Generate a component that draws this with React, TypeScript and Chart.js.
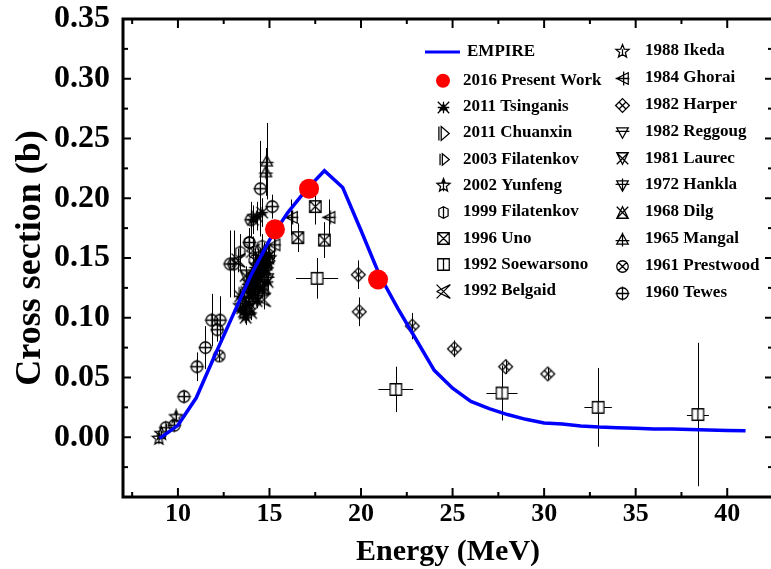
import React, { useEffect, useRef } from 'react';
import { Chart, registerables } from 'chart.js';
Chart.register(...registerables);

// ---------- axis ticks ----------
const X_TICKS = [10, 15, 20, 25, 30, 35, 40];
const X_MINOR = [7.5, 12.5, 17.5, 22.5, 27.5, 32.5, 37.5, 42.5];
const Y_TICKS = [-0.05, 0, 0.05, 0.1, 0.15, 0.2, 0.25, 0.3, 0.35];
const Y_MINOR = [-0.025, 0.025, 0.075, 0.125, 0.175, 0.225, 0.275, 0.325];

// ---------- EMPIRE calculation ----------
const EMPIRE_E = [9, 10, 11, 12, 13, 14, 15, 16, 17, 18, 19, 20, 21, 22, 23, 24, 25, 26, 27, 28, 29, 30, 31, 32, 33, 34, 35, 36, 37, 38, 39, 40, 41];
const EMPIRE_XS = [-0.001, 0.010, 0.033, 0.068, 0.102, 0.136, 0.165, 0.188, 0.207, 0.223, 0.209, 0.173, 0.136, 0.108, 0.082, 0.056, 0.041, 0.030, 0.024, 0.019, 0.015, 0.012, 0.011, 0.0095, 0.0085, 0.008, 0.0075, 0.007, 0.0068, 0.0065, 0.006, 0.0057, 0.0054];

// ---------- experimental data ----------
const PRESENT_E = [15.3, 17.16, 20.93];
const PRESENT_XS = [0.174, 0.208, 0.132];

const TSINGANIS_E = [13.5, 13.7, 13.9, 14.0, 14.1, 14.2, 14.3, 14.4, 14.5, 14.6, 14.7, 14.8, 14.1, 14.6, 14.3, 13.4, 13.6, 13.8, 13.9, 14.0, 14.1, 14.2, 14.3, 14.4, 14.5, 14.6, 14.7, 14.8, 14.9, 15.0, 13.7, 14.0, 14.3, 14.6, 14.9];
const TSINGANIS_XS = [0.108, 0.112, 0.118, 0.125, 0.130, 0.128, 0.135, 0.140, 0.138, 0.145, 0.148, 0.150, 0.182, 0.188, 0.185, 0.118, 0.105, 0.128, 0.112, 0.135, 0.122, 0.142, 0.126, 0.150, 0.132, 0.138, 0.155, 0.140, 0.146, 0.152, 0.100, 0.104, 0.114, 0.124, 0.130];
const TSINGANIS_ERR = [0.006, 0.006, 0.006, 0.007, 0.007, 0.007, 0.007, 0.007, 0.007, 0.008, 0.008, 0.008, 0.012, 0.012, 0.012, 0.006, 0.006, 0.007, 0.006, 0.007, 0.007, 0.007, 0.007, 0.008, 0.007, 0.007, 0.008, 0.007, 0.008, 0.008, 0.006, 0.006, 0.006, 0.007, 0.007];

const CHUANXIN_E = [13.6, 14.0, 14.5, 14.9];
const CHUANXIN_XS = [0.120, 0.132, 0.140, 0.155];
const CHUANXIN_ERR = [0.006, 0.007, 0.007, 0.008];

const FILATENKOV03_E = [13.8, 14.3, 14.7];
const FILATENKOV03_XS = [0.125, 0.140, 0.152];
const FILATENKOV03_ERR = [0.007, 0.008, 0.008];

const YUNFENG_E = [8.96, 9.9, 13.6, 13.9, 14.2, 14.5, 14.8, 15.0];
const YUNFENG_XS = [-0.001, 0.017, 0.104, 0.115, 0.122, 0.130, 0.140, 0.150];
const YUNFENG_ERR = [0.001, 0.002, 0.006, 0.006, 0.007, 0.007, 0.007, 0.008];

const FILATENKOV99_E = [13.4, 13.9, 14.6];
const FILATENKOV99_XS = [0.155, 0.163, 0.160];
const FILATENKOV99_ERR = [0.015, 0.012, 0.010];

const UNO_E = [16.55, 17.5, 18.0];
const UNO_XS = [0.167, 0.193, 0.165];
const UNO_ERR = [0.012, 0.015, 0.015];

const SOEWARSONO_E = [17.6, 21.9, 27.7, 32.95, 38.4];
const SOEWARSONO_XS = [0.133, 0.040, 0.037, 0.025, 0.019];
const SOEWARSONO_ERR = [0.017, 0.019, 0.023, 0.033, 0.060];
const SOEWARSONO_EERR = [1.15, 0.95, 0.85, 0.75, 0.6];

const BELGAID_E = [13.3, 14.1, 14.7];
const BELGAID_XS = [0.148, 0.156, 0.115];
const BELGAID_ERR = [0.010, 0.012, 0.008];

const IKEDA_E = [9.1, 13.4, 13.8, 14.2, 14.6, 14.9];
const IKEDA_XS = [0.003, 0.110, 0.120, 0.135, 0.142, 0.145];
const IKEDA_ERR = [0.001, 0.006, 0.006, 0.007, 0.007, 0.007];

const GHORAI_E = [15.25, 16.2, 18.25];
const GHORAI_XS = [0.161, 0.184, 0.184];
const GHORAI_ERR = [0.012, 0.015, 0.015];

const HARPER_E = [19.85, 19.9, 22.8, 25.1, 27.9, 30.2];
const HARPER_XS = [0.136, 0.105, 0.093, 0.074, 0.059, 0.053];
const HARPER_ERR = [0.012, 0.012, 0.011, 0.007, 0.006, 0.005];

const REGGOUG_E = [14.1, 14.7];
const REGGOUG_XS = [0.128, 0.145];
const REGGOUG_ERR = [0.007, 0.008];

const LAUREC_E = [13.7, 14.5];
const LAUREC_XS = [0.135, 0.150];
const LAUREC_ERR = [0.008, 0.008];

const HANKLA_E = [14.4, 14.9];
const HANKLA_XS = [0.118, 0.133];
const HANKLA_ERR = [0.007, 0.007];

const DILG_E = [13.9, 14.7];
const DILG_XS = [0.108, 0.125];
const DILG_ERR = [0.006, 0.007];

const MANGAL_E = [14.85, 14.8];
const MANGAL_XS = [0.231, 0.222];
const MANGAL_ERR = [0.032, 0.020];

const PRESTWOOD_E = [12.25, 14.2];
const PRESTWOOD_XS = [0.068, 0.148];
const PRESTWOOD_ERR = [0.005, 0.010];

const TEWES_E = [9.34, 9.8, 10.33, 11.04, 11.5, 11.85, 12.3, 12.15, 12.85, 13.05, 13.9, 14.0, 14.5, 15.15];
const TEWES_XS = [0.008, 0.010, 0.034, 0.059, 0.075, 0.098, 0.098, 0.090, 0.145, 0.145, 0.163, 0.182, 0.208, 0.193];
const TEWES_ERR = [0.003, 0.003, 0.004, 0.012, 0.018, 0.022, 0.020, 0.010, 0.028, 0.028, 0.012, 0.015, 0.040, 0.010];

// ---------- glyphs ----------
type Draw = (c: CanvasRenderingContext2D) => void;
function glyph(draw: Draw, fill = false): HTMLCanvasElement {
  const s = 17;
  const cv = document.createElement('canvas');
  cv.width = s;
  cv.height = s;
  const c = cv.getContext('2d')!;
  c.translate(8.5, 8.5);
  c.scale(1.15, 1.15);
  c.strokeStyle = '#000';
  c.fillStyle = '#fff';
  c.lineWidth = 1.1;
  c.beginPath();
  draw(c);
  if (fill) c.fill();
  c.stroke();
  return cv;
}
const L = (c: CanvasRenderingContext2D, a: number, b: number, d: number, e: number) => { c.moveTo(a, b); c.lineTo(d, e); };
const poly = (c: CanvasRenderingContext2D, pts: number[][]) => { c.moveTo(pts[0][0], pts[0][1]); for (let i = 1; i < pts.length; i++) c.lineTo(pts[i][0], pts[i][1]); c.closePath(); };
const star = (c: CanvasRenderingContext2D, ro: number, ri: number) => {
  const pts: number[][] = [];
  for (let i = 0; i < 10; i++) { const a = (-90 + i * 36) * Math.PI / 180; const r = i % 2 ? ri : ro; pts.push([r * Math.cos(a), r * Math.sin(a)]); }
  poly(c, pts);
};
const circ = (c: CanvasRenderingContext2D, r: number) => { c.moveTo(r, 0); c.arc(0, 0, r, 0, Math.PI * 2); };

function makeGlyphs() {
  return {
    tsinganis: glyph((c) => { L(c, -5, -5, 5, 5); L(c, -5, 5, 5, -5); L(c, -5, 0, 5, 0); L(c, 0, -5, 0, 5); poly(c, [[0, -3], [3, 2], [-3, 2]]); }),
    chuanxin: glyph((c) => { L(c, -4, -6, -4, 6); poly(c, [[-2, -6], [5, 0], [-2, 6]]); }),
    filatenkov03: glyph((c) => { L(c, -3, -5, -3, 5); poly(c, [[-1, -5], [5, 0], [-1, 5]]); }),
    yunfeng: glyph((c) => { star(c, 6, 2.6); L(c, -5, -2, 5, -2); L(c, 0, -6, 0, 5); }),
    filatenkov99: glyph((c) => { poly(c, [[0, -5], [4, -3], [4, 3], [0, 5], [-4, 3], [-4, -3]]); L(c, 0, -5, 0, 5); }),
    uno: glyph((c) => { c.rect(-5, -5, 10, 10); L(c, -5, -5, 5, 5); L(c, -5, 5, 5, -5); }),
    soewarsono: glyph((c) => { c.rect(-5, -5, 10, 10); L(c, 0, -5, 0, 5); }, true),
    belgaid: glyph((c) => { L(c, -6, -6, 6, 6); L(c, -6, 6, 6, -6); L(c, -6, 0, 6, -6); L(c, -6, 0, 6, 6); }),
    ikeda: glyph((c) => { star(c, 6, 2.6); L(c, 0, -2, 0, 4); }),
    ghorai: glyph((c) => { poly(c, [[5, -5], [-5, 0], [5, 5]]); L(c, -6, 0, 6, 0); L(c, 1, -6, 1, 6); }),
    harper: glyph((c) => { poly(c, [[0, -6], [6, 0], [0, 6], [-6, 0]]); L(c, -3, -3, 3, 3); L(c, -3, 3, 3, -3); }),
    reggoug: glyph((c) => { poly(c, [[-5, -4], [5, -4], [0, 5]]); L(c, -6, -1, 6, -1); }),
    laurec: glyph((c) => { poly(c, [[-5, -5], [5, -5], [0, 5]]); L(c, -5, -5, 5, 5); L(c, -5, 5, 5, -5); }),
    hankla: glyph((c) => { poly(c, [[-5, -4], [5, -4], [0, 5]]); L(c, -6, -1, 6, -1); L(c, 0, -6, 0, 5); }),
    dilg: glyph((c) => { poly(c, [[-5, 5], [5, 5], [0, -5]]); L(c, -5, -5, 5, 5); L(c, -5, 5, 5, -5); }),
    mangal: glyph((c) => { poly(c, [[-5, 4], [5, 4], [0, -5]]); L(c, -6, 1, 6, 1); L(c, 0, -6, 0, 6); }),
    prestwood: glyph((c) => { circ(c, 5); L(c, -3.5, -3.5, 3.5, 3.5); L(c, -3.5, 3.5, 3.5, -3.5); }),
    tewes: glyph((c) => { circ(c, 5); L(c, -6, 0, 6, 0); L(c, 0, -6, 0, 6); }),
  };
}

const pts = (xs: number[], ys: number[]) => xs.map((x, i) => ({ x, y: ys[i] }));

const COL1 = ['EMPIRE', '2016 Present Work', '2011 Tsinganis', '2011 Chuanxin', '2003 Filatenkov', '2002 Yunfeng', '1999 Filatenkov', '1996 Uno', '1992 Soewarsono', '1992 Belgaid'];
const COL2 = ['1988 Ikeda', '1984 Ghorai', '1982 Harper', '1982 Reggoug', '1981 Laurec', '1972 Hankla', '1968 Dilg', '1965 Mangal', '1961 Prestwood', '1960 Tewes'];
const COL1_Y = [52, 80.7, 107, 133, 159.3, 185.6, 212, 238.4, 264.8, 291];
const COL2_Y = [51, 78, 105, 132, 158.3, 185, 212, 239, 266, 293];

const FONT = '"Liberation Serif", "Times New Roman", serif';

const errorBarPlugin = {
  id: 'errbars',
  beforeDatasetsDraw(chart: any) {
    const { ctx, chartArea, scales } = chart;
    const xs = scales.x, ys = scales.y;
    ctx.save();
    ctx.beginPath();
    ctx.rect(chartArea.left, chartArea.top, chartArea.right - chartArea.left, chartArea.bottom - chartArea.top);
    ctx.clip();
    ctx.strokeStyle = '#000';
    ctx.lineWidth = 1;
    chart.data.datasets.forEach((ds: any) => {
      if (!ds.errY && !ds.errX) return;
      ds.data.forEach((p: any, i: number) => {
        const px = Math.round(xs.getPixelForValue(p.x)) + 0.5;
        const py = Math.round(ys.getPixelForValue(p.y)) + 0.5;
        ctx.beginPath();
        if (ds.errY) {
          const e = ds.errY[i];
          ctx.moveTo(px, ys.getPixelForValue(p.y - e));
          ctx.lineTo(px, ys.getPixelForValue(p.y + e));
        }
        if (ds.errX) {
          const e = ds.errX[i];
          ctx.moveTo(xs.getPixelForValue(p.x - e), py);
          ctx.lineTo(xs.getPixelForValue(p.x + e), py);
        }
        ctx.stroke();
      });
    });
    ctx.restore();
  },
};

const framePlugin = {
  id: 'frame',
  afterDraw(chart: any) {
    const { ctx, chartArea: a, scales } = chart;
    const xs = scales.x, ys = scales.y;
    ctx.save();
    ctx.strokeStyle = '#000';
    ctx.lineWidth = 2;
    const tick = (x1: number, y1: number, x2: number, y2: number) => { ctx.beginPath(); ctx.moveTo(x1, y1); ctx.lineTo(x2, y2); ctx.stroke(); };
    X_TICKS.forEach((v) => { const x = xs.getPixelForValue(v); tick(x, a.bottom, x, a.bottom - 9); tick(x, a.top, x, a.top + 9); });
    X_MINOR.forEach((v) => { const x = xs.getPixelForValue(v); tick(x, a.bottom, x, a.bottom - 5); tick(x, a.top, x, a.top + 5); });
    Y_TICKS.forEach((v) => { const y = ys.getPixelForValue(v); tick(a.left, y, a.left + 8, y); tick(a.right, y, a.right - 8, y); });
    Y_MINOR.forEach((v) => { const y = ys.getPixelForValue(v); tick(a.left, y, a.left + 5, y); tick(a.right, y, a.right - 5, y); });
    ctx.lineWidth = 3;
    ctx.strokeRect(a.left, a.top, a.right - a.left, a.bottom - a.top);
    ctx.restore();
  },
};

const legendPlugin = {
  id: 'customLegend',
  afterDraw(chart: any) {
    const { ctx } = chart;
    const byLabel: Record<string, any> = {};
    chart.data.datasets.forEach((d: any) => { byLabel[d.label] = d; });
    ctx.save();
    ctx.font = `bold 17px ${FONT}`;
    ctx.textBaseline = 'middle';
    ctx.textAlign = 'left';
    ctx.fillStyle = '#000';
    const drawSym = (ds: any, x: number, y: number) => {
      if (ds.showLine) {
        ctx.strokeStyle = ds.borderColor;
        ctx.lineWidth = 3;
        ctx.beginPath(); ctx.moveTo(425, y); ctx.lineTo(460, y); ctx.stroke();
      } else if (typeof ds.pointStyle === 'string') {
        ctx.fillStyle = ds.backgroundColor;
        ctx.beginPath(); ctx.arc(x, y, 7, 0, Math.PI * 2); ctx.fill();
        ctx.fillStyle = '#000';
      } else {
        const g = ds.pointStyle as HTMLCanvasElement;
        ctx.drawImage(g, Math.round(x - g.width / 2), Math.round(y - g.height / 2));
      }
    };
    COL1.forEach((lab, i) => {
      const ds = byLabel[lab];
      drawSym(ds, 443, COL1_Y[i]);
      ctx.fillStyle = '#000';
      ctx.fillText(lab, i === 0 ? 467 : 463, COL1_Y[i]);
    });
    COL2.forEach((lab, i) => {
      const ds = byLabel[lab];
      drawSym(ds, 622, COL2_Y[i]);
      ctx.fillStyle = '#000';
      ctx.fillText(lab, 645, COL2_Y[i]);
    });
    ctx.restore();
  },
};

export default function App() {
  const ref = useRef<HTMLCanvasElement>(null);
  useEffect(() => {
    document.body.style.margin = '0';
    const G = makeGlyphs();
    const sc = (label: string, e: number[], v: number[], g: HTMLCanvasElement, err?: number[], errX?: number[]) => ({
      label, type: 'scatter', data: pts(e, v), pointStyle: g, pointRadius: 5, showLine: false, order: 3, errY: err, errX,
    });
    const chart = new Chart(ref.current!, {
      type: 'scatter',
      data: {
        datasets: [
          { label: '2016 Present Work', data: pts(PRESENT_E, PRESENT_XS), pointStyle: 'circle', pointRadius: 10, backgroundColor: '#ff0000', borderWidth: 0, order: 0 } as any,
          { label: 'EMPIRE', type: 'line', data: pts(EMPIRE_E, EMPIRE_XS), showLine: true, borderColor: '#0000ff', borderWidth: 3.5, pointRadius: 0, fill: false, tension: 0, order: 1 } as any,
          sc('2011 Tsinganis', TSINGANIS_E, TSINGANIS_XS, G.tsinganis, TSINGANIS_ERR),
          sc('2011 Chuanxin', CHUANXIN_E, CHUANXIN_XS, G.chuanxin, CHUANXIN_ERR),
          sc('2003 Filatenkov', FILATENKOV03_E, FILATENKOV03_XS, G.filatenkov03, FILATENKOV03_ERR),
          sc('2002 Yunfeng', YUNFENG_E, YUNFENG_XS, G.yunfeng, YUNFENG_ERR),
          sc('1999 Filatenkov', FILATENKOV99_E, FILATENKOV99_XS, G.filatenkov99, FILATENKOV99_ERR),
          sc('1996 Uno', UNO_E, UNO_XS, G.uno, UNO_ERR),
          sc('1992 Soewarsono', SOEWARSONO_E, SOEWARSONO_XS, G.soewarsono, SOEWARSONO_ERR, SOEWARSONO_EERR),
          sc('1992 Belgaid', BELGAID_E, BELGAID_XS, G.belgaid, BELGAID_ERR),
          sc('1988 Ikeda', IKEDA_E, IKEDA_XS, G.ikeda, IKEDA_ERR),
          sc('1984 Ghorai', GHORAI_E, GHORAI_XS, G.ghorai, GHORAI_ERR),
          sc('1982 Harper', HARPER_E, HARPER_XS, G.harper, HARPER_ERR),
          sc('1982 Reggoug', REGGOUG_E, REGGOUG_XS, G.reggoug, REGGOUG_ERR),
          sc('1981 Laurec', LAUREC_E, LAUREC_XS, G.laurec, LAUREC_ERR),
          sc('1972 Hankla', HANKLA_E, HANKLA_XS, G.hankla, HANKLA_ERR),
          sc('1968 Dilg', DILG_E, DILG_XS, G.dilg, DILG_ERR),
          sc('1965 Mangal', MANGAL_E, MANGAL_XS, G.mangal, MANGAL_ERR),
          sc('1961 Prestwood', PRESTWOOD_E, PRESTWOOD_XS, G.prestwood, PRESTWOOD_ERR),
          sc('1960 Tewes', TEWES_E, TEWES_XS, G.tewes, TEWES_ERR),
        ] as any,
      },
      options: {
        animation: false,
        responsive: false,
        devicePixelRatio: 1,
        events: [],
        layout: { padding: { top: 19, right: 27, left: 0, bottom: 0 } },
        plugins: { legend: { display: false }, tooltip: { enabled: false } },
        scales: {
          x: {
            type: 'linear', min: 7, max: 42.5,
            afterFit: (s: any) => { s.height = 72; s.paddingLeft = 0; s.paddingRight = 0; },
            afterBuildTicks: (s: any) => { s.ticks = X_TICKS.map((value) => ({ value })); },
            grid: { display: false, drawTicks: false },
            border: { display: false },
            ticks: { padding: 2, color: '#000', font: { family: FONT, size: 26, weight: 'bold' }, callback: (v: any) => String(v) },
            title: { display: true, text: 'Energy (MeV)', color: '#000', padding: { top: 0, bottom: 0 }, font: { family: FONT, size: 30, weight: 'bold', lineHeight: 1.1 } },
          },
          y: {
            type: 'linear', min: -0.05, max: 0.35,
            afterFit: (s: any) => { s.width = 123; s.paddingTop = 0; s.paddingBottom = 0; },
            afterBuildTicks: (s: any) => { s.ticks = Y_TICKS.map((value) => ({ value })); },
            grid: { display: false, drawTicks: false },
            border: { display: false },
            ticks: { padding: 13, color: '#000', font: { family: FONT, size: 32, weight: 'bold' }, callback: (v: any) => (Math.abs(v + 0.05) < 1e-9 ? '' : Number(v).toFixed(2)) },
            title: { display: true, text: 'Cross section (b)', color: '#000', padding: { top: 9, bottom: 0 }, font: { family: FONT, size: 36, weight: 'bold' } },
          },
        },
      } as any,
      plugins: [errorBarPlugin, framePlugin, legendPlugin],
    });
    return () => chart.destroy();
  }, []);
  return (
    <div style={{ position: 'fixed', left: 0, top: 0, width: 771, height: 569, overflow: 'hidden', background: '#fff' }}>
      <canvas ref={ref} width={800} height={569} style={{ display: 'block' }} />
    </div>
  );
}
